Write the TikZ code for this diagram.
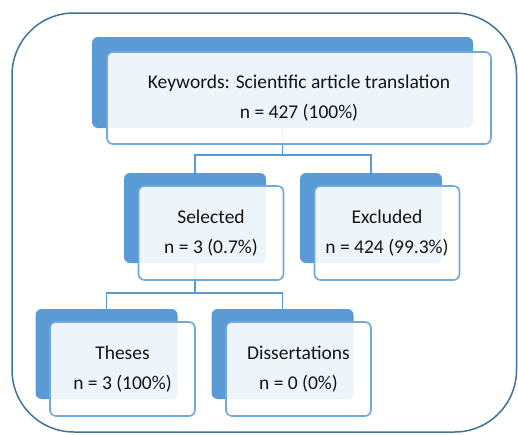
\documentclass[tikz,border=0pt]{standalone}
\usepackage{fontspec}
\setmainfont{Carlito}
\usetikzlibrary{calc}

\definecolor{boxblue}{HTML}{5B9BD5}
\definecolor{edgeblue}{HTML}{6FA8DC}
\definecolor{frameblue}{HTML}{41719C}

\begin{document}
\begin{tikzpicture}[
  x=1pt,y=-1pt,
  backbox/.style={rectangle,rounded corners=6pt,fill=boxblue,minimum width=142pt,minimum height=90pt,inner sep=0pt},
  frontbox/.style={rectangle,rounded corners=6pt,draw=edgeblue,line width=1.6pt,fill=white,fill opacity=0.9,text opacity=1,
    minimum width=145pt,minimum height=94pt,inner sep=0pt,align=center,text=black!92,font=\fontsize{19.5}{30}\selectfont},
  conn/.style={draw=boxblue,line width=1.6pt},
  outerframe/.style={draw=frameblue,line width=1.5pt,rounded corners=62pt}
]

% ---------------- page and outer frame ----------------
\useasboundingbox (0,0) rectangle (518,434);
\draw[outerframe] (12,13) rectangle (516.5,432);

% ---------------- back boxes ----------------
\def\xSel{195}
\def\xExc{371}
\def\yMid{218}
\def\yLow{354}

\node[backbox,minimum width=381pt,minimum height=91pt] (topback) at (282.5,82.5) {};
\node[backbox] (selback)  at (\xSel,\yMid) {};
\node[backbox] (excback)  at (\xExc,\yMid) {};
\node[backbox] (thesback) at (106.5,\yLow) {};
\node[backbox] (dissback) at (282.5,\yLow) {};

% ---------------- connectors, behind the front boxes ----------------
\draw[conn] (topback.south) -- ([yshift=-27pt]topback.south) -| (selback.north);
\draw[conn] ([yshift=-27pt]topback.south) -| (excback.north);
\draw[conn] (selback.south) -- ([yshift=-30pt]selback.south) -| (thesback.north);
\draw[conn] ([yshift=-30pt]selback.south) -| (dissback.north);

% ---------------- front boxes with the counts ----------------
\node[frontbox,minimum width=384pt,minimum height=92pt] (top) at ($(topback.center)+(16.5,15.5)$)
  {Keywords: Scientific article translation\\n = 427 (100\%)};
\node[frontbox] (sel)  at ($(selback.center)+(16,15)$)  {Selected\\n = 3 (0.7\%)};
\node[frontbox] (exc)  at ($(excback.center)+(16,15)$)  {Excluded\\n = 424 (99.3\%)};
\node[frontbox] (thes) at ($(thesback.center)+(16,15)$) {Theses\\n = 3 (100\%)};
\node[frontbox] (diss) at ($(dissback.center)+(16,15)$) {Dissertations\\n = 0 (0\%)};

\end{tikzpicture}
\end{document}
